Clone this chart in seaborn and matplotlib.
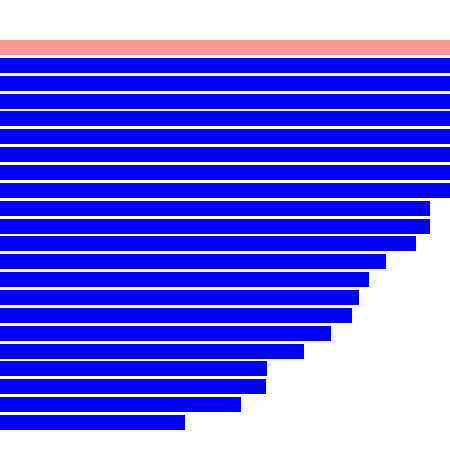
import matplotlib
matplotlib.use("Agg")
import matplotlib.pyplot as plt
import seaborn as sns
import pandas as pd

categories = [f"item{i+1}" for i in range(22)]
values = [600, 580, 570, 560, 540, 520, 500, 480, 465,
          430, 430, 416, 386, 369, 359, 352, 331, 304, 267, 266, 241, 185]
colors = ["#FF9696"] + ["#0000FF"] * 21

df = pd.DataFrame({"cat": categories, "val": values})

sns.set_theme(style="white")
fig = plt.figure(figsize=(4.5, 4.5), dpi=100)
ax = fig.add_axes([0, 0, 1, 1])
sns.barplot(data=df, y="cat", x="val", hue="cat", palette=colors, legend=False,
            orient="h", width=0.84, linewidth=0, saturation=1, ax=ax)
ax.set_xlim(0, 450)
ax.set_ylim(22.54, -2.66)
ax.axis("off")
fig.savefig("out.png", dpi=100)
